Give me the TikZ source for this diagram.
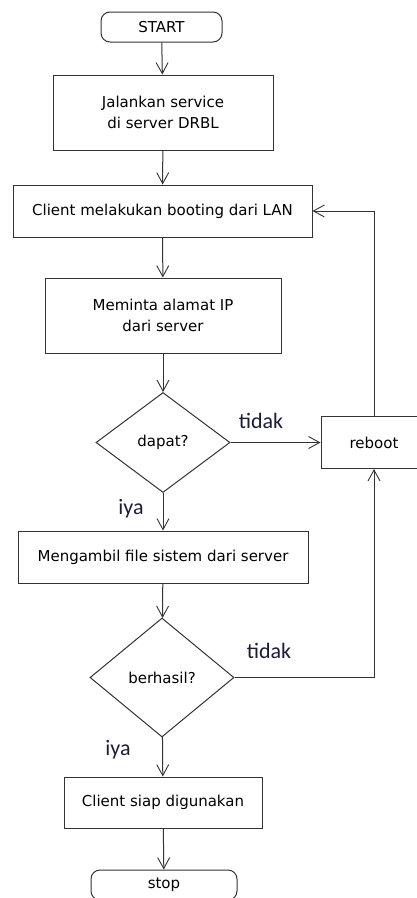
\documentclass[tikz,border=0pt]{standalone}
\usepackage{fontspec}
\setmainfont{DejaVu Sans}
\newfontfamily\labelfont{Carlito}
\usetikzlibrary{shapes.geometric,arrows.meta}

\begin{document}
\begin{tikzpicture}[x=1pt,y=-1pt,line width=1pt,
	every node/.style={font=\fontsize{15}{21}\selectfont,text=black},
	proses/.style={shape=rectangle,draw=linegray,inner sep=0pt,align=center},
	terminal/.style={shape=rectangle,draw=linegray,rounded corners=9pt,inner sep=0pt},
	keputusan/.style={shape=diamond,draw=linegray,inner sep=0pt,aspect=1.3},
	jawab/.style={font=\labelfont\fontsize{22}{24}\selectfont,text=labelblue},
	arus/.style={draw=linegray,-{Straight Barb[length=11pt,width=12pt,line width=0.9pt]}}]
	\definecolor{linegray}{HTML}{333333}
	\definecolor{labelblue}{HTML}{1C1C3A}
	\useasboundingbox (0,0) rectangle (417,898);
	\clip (0,0) rectangle (417,898);
	\node[terminal,minimum width=121pt,minimum height=30pt] (start) at (161.5,27) {START};
	\node[proses,minimum width=220pt,minimum height=75pt] (jalankan) at (163,112.5) {Jalankan service\\di server DRBL};
	\node[proses,minimum width=299pt,minimum height=52pt] (booting) at (162.5,211) {Client melakukan booting dari LAN};
	\node[proses,minimum width=236pt,minimum height=75pt] (meminta) at (163,315.5) {Meminta alamat IP\\dari server};
	\node[keputusan,minimum width=134pt,minimum height=100pt] (dapat) at (163,442.5) {dapat?};
	\node[proses,minimum width=106pt,minimum height=52pt] (reboot) at (374,442.5) {reboot};
	\node[proses,minimum width=290pt,minimum height=52pt] (mengambil) at (163,557) {Mengambil file sistem dari server};
	\node[keputusan,minimum width=144pt,minimum height=119pt] (berhasil) at (162,677.5) {berhasil?};
	\node[proses,minimum width=198pt,minimum height=51pt] (siap) at (163,802.5) {Client siap digunakan};
	\node[terminal,minimum width=146pt,minimum height=30pt] (stop) at (164,885) {stop};
	\node[jawab] (tidak1) at (261,421) {tidak};
	\node[jawab] (tidak2) at (269,651) {tidak};
	\node[jawab] (iya1) at (131,509) {iya};
	\node[jawab] (iya2) at (118,750) {iya};
	\path [arus] (start) edge (jalankan);
	\path [arus] (jalankan) edge (booting);
	\path [arus] (booting) edge (meminta);
	\path [arus] (meminta) edge (dapat);
	\path [arus] (dapat) edge (mengambil);
	\path [arus] (mengambil) edge (berhasil);
	\path [arus] (berhasil) edge (siap);
	\path [arus] (siap) edge (stop);
	\draw [arus] (dapat.east) -- (reboot.west);
	\draw [arus] (reboot.north) |- (booting.east);
	\draw [arus] (berhasil.east) -| (reboot.south);
\end{tikzpicture}
\end{document}
